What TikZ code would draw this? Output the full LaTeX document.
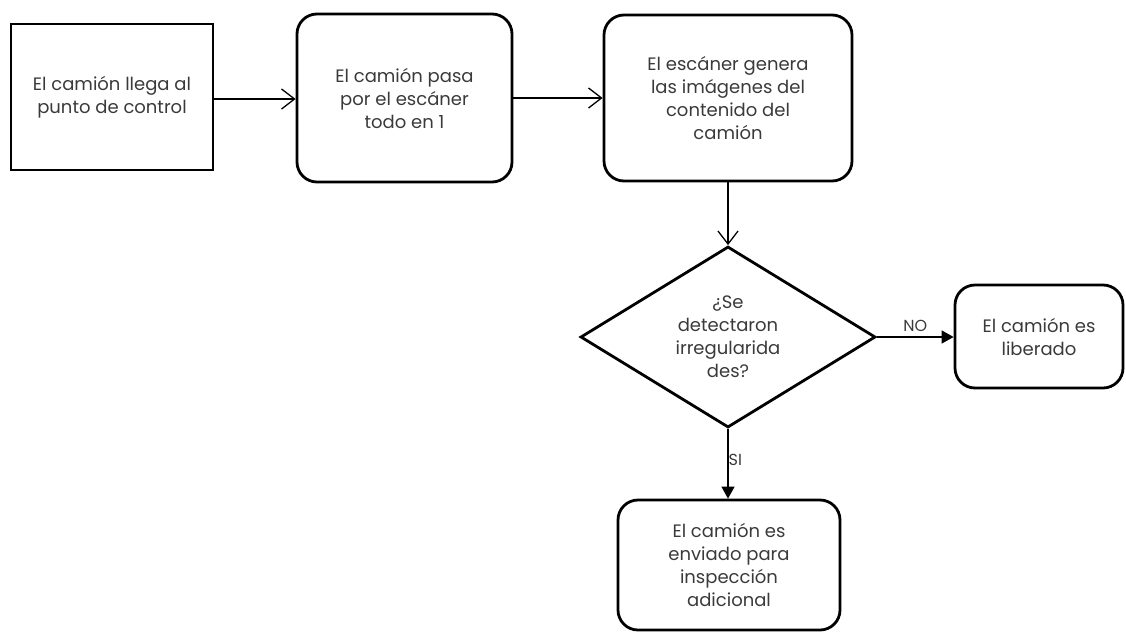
\documentclass[tikz,border=0pt]{standalone}
\usepackage{fontspec}
\setmainfont{Poppins}
\usetikzlibrary{shapes.geometric,arrows.meta}
\definecolor{txt}{HTML}{3A3A3A}
\tikzset{
  base/.style={draw=black, line width=2.8pt, align=center, text=txt, inner sep=0pt,
    font=\fontsize{18}{23}\selectfont},
  sqbox/.style={base, rectangle},
  rbox/.style={base, rectangle, rounded corners=20pt},
  decision/.style={base, diamond, aspect=1.63},
  openarrow/.style={line width=1.3pt, -{Straight Barb[length=13pt,width=20pt,line width=1.3pt]}},
  fillarrow/.style={line width=1.3pt, -{Triangle[length=12pt,width=13pt]}},
  lbl/.style={text=txt, font=\fontsize{16}{18}\selectfont, inner sep=1pt}
}
\begin{document}
\begin{tikzpicture}[x=1pt,y=-1pt]
\useasboundingbox (0,0) rectangle (1126,632);
\node[sqbox, minimum width=202pt, minimum height=146pt] (b1) at (112,97) {El camión llega al\\punto de control};
\node[rbox, minimum width=215pt, minimum height=168pt] (b2) at (404.5,98) {El camión pasa\\por el escáner\\todo en 1};
\node[rbox, minimum width=248pt, minimum height=166pt] (b3) at (728,98) {El escáner genera\\las imágenes del\\contenido del\\camión};
\node[decision, minimum width=295pt, minimum height=181pt] (d) at (728,337) {¿Se\\detectaron\\irregularida\\des?};
\node[rbox, minimum width=168pt, minimum height=103pt] (b4) at (1039,336.5) {El camión es\\liberado};
\node[rbox, minimum width=222pt, minimum height=130pt] (b5) at (729,565) {El camión es\\enviado para\\inspección\\adicional};
\draw[openarrow] (b1.east |- 0,99) -- (b2.west |- 0,99);
\draw[openarrow] (b2.east |- 0,98) -- (b3.west |- 0,98);
\draw[openarrow] (b3.south) -- (d.north);
\draw[fillarrow] (d.east) -- node[lbl, above=4pt] {NO} (b4.west |- d.east);
\draw[fillarrow] (d.south) -- node[lbl, right=-1pt, pos=0.45] {SI} (b5.north -| d.south);
\end{tikzpicture}
\end{document}
